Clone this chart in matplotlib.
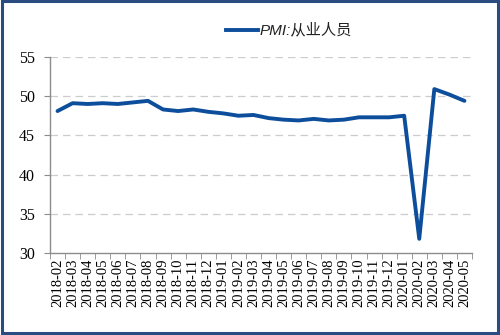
import matplotlib
matplotlib.use("Agg")
import matplotlib.pyplot as plt
from matplotlib.patches import Rectangle
from matplotlib.lines import Line2D

months = ["2018-02", "2018-03", "2018-04", "2018-05", "2018-06", "2018-07", "2018-08",
          "2018-09", "2018-10", "2018-11", "2018-12", "2019-01", "2019-02", "2019-03",
          "2019-04", "2019-05", "2019-06", "2019-07", "2019-08", "2019-09", "2019-10",
          "2019-11", "2019-12", "2020-01", "2020-02", "2020-03", "2020-04", "2020-05"]
employment = [48.1, 49.1, 49.0, 49.1, 49.0, 49.2, 49.4, 48.3, 48.1, 48.3, 48.0, 47.8,
              47.5, 47.6, 47.2, 47.0, 46.9, 47.1, 46.9, 47.0, 47.3, 47.3, 47.3, 47.5,
              31.8, 50.9, 50.2, 49.4]
yticks = [30, 35, 40, 45, 50, 55]
series_name = "PMI:从业人员"

line_color = "#0d4e9c"
grid_color = "#cccccc"
axis_color = "#8c8c8c"

fig = plt.figure(figsize=(5.0, 3.35), dpi=100)
ax = fig.add_axes([0.100, 0.245, 0.844, 0.585])

x = list(range(len(months)))
ax.plot(x, employment, color=line_color, lw=2.8, solid_joinstyle="round",
        solid_capstyle="round", zorder=3)

ax.set_xlim(-0.5, len(months) - 0.5)
ax.set_ylim(30, 55)
ax.set_yticks(yticks)
ax.set_yticklabels([str(v) for v in yticks], fontfamily="Liberation Serif", fontsize=11.5)
ax.set_xticks(x)
ax.set_xticklabels(months, rotation=90, fontfamily="Liberation Serif", fontsize=10.5)
ax.set_xticks([i - 0.5 for i in range(len(months) + 1)], minor=True)
ax.tick_params(axis="x", which="major", length=0, pad=4)
ax.tick_params(axis="x", which="minor", length=4, color=axis_color, direction="out")
ax.tick_params(axis="y", length=4, color=axis_color, direction="out", pad=7)

for v in yticks[1:]:
    ax.axhline(v, color=grid_color, lw=0.9, ls=(0, (6, 4)), zorder=1)

for s in ["top", "right"]:
    ax.spines[s].set_visible(False)
for s in ["left", "bottom"]:
    ax.spines[s].set_color(axis_color)
    ax.spines[s].set_linewidth(1.0)

# legend
fig.add_artist(Line2D([0.452, 0.516], [0.910, 0.910], color=line_color, lw=2.8,
                      transform=fig.transFigure))
fig.text(0.520, 0.910, series_name, fontsize=11, style="italic", va="center", ha="left",
         family=["Liberation Sans", "Noto Sans CJK SC"], color="#222222")

# outer frame
fig.add_artist(Rectangle((0.003, 0.006), 0.992, 0.991, transform=fig.transFigure,
                         fill=False, edgecolor="#2b4c80", lw=2.2))

fig.savefig("out.png", dpi=100)
